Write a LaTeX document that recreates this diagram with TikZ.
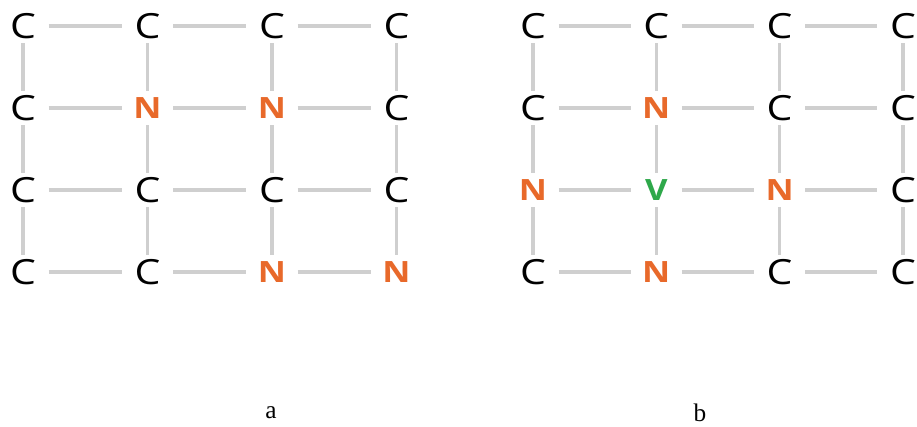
\documentclass[tikz,border=0pt]{standalone}
\usepackage{fontspec}
\setmainfont{Liberation Serif}
\newfontfamily\atomfont{Open Sans}
\usetikzlibrary{calc}

\definecolor{nitrogen}{HTML}{E8692A}
\definecolor{vacancy}{HTML}{2EA84A}
\definecolor{bondgray}{HTML}{CFCFCF}

\newcommand{\widen}[1]{\scalebox{1.18}[1]{#1}}

\tikzset{
  site/.style={inner sep=0pt, minimum width=38pt, minimum height=25.5pt},
  atomC/.style={site, text=black, font=\atomfont\fontsize{26}{26}\selectfont},
  atomN/.style={site, text=nitrogen, font=\atomfont\bfseries\fontsize{22}{22}\selectfont},
  atomV/.style={site, text=vacancy, font=\atomfont\bfseries\fontsize{22}{22}\selectfont},
  bond/.style={bondgray, line width=2.5pt},
  panel/.style={font=\fontsize{19}{19}\selectfont},
}

\begin{document}
\begin{tikzpicture}[x=0.75pt, y=-0.75pt]
\useasboundingbox (0,0) rectangle (917,426);

% lattice a
\foreach \j/\y/\atoms in {1/26/{C,C,C,C}, 2/108/{C,N,N,C}, 3/190/{C,C,C,C}, 4/272/{C,C,N,N}}{
  \foreach \t [count=\i] in \atoms
    \node[atom\t] (a-\i-\j) at ({23+124.5*(\i-1)},\y) {\widen{\t}};
}
% lattice b
\foreach \j/\y/\atoms in {1/26/{C,C,C,C}, 2/108/{C,N,C,C}, 3/190/{N,V,N,C}, 4/272/{C,N,C,C}}{
  \foreach \t [count=\i] in \atoms
    \node[atom\t] (b-\i-\j) at ({533+123.3*(\i-1)},\y) {\widen{\t}};
}

% bonds
\foreach \p in {a,b}{
  \foreach \i in {1,...,4}{
    \foreach \j in {1,...,4}{
      \pgfmathtruncatemacro{\inext}{\i+1}
      \pgfmathtruncatemacro{\jnext}{\j+1}
      \ifnum\i<4 \draw[bond] (\p-\i-\j) -- (\p-\inext-\j); \fi
      \ifnum\j<4 \draw[bond] (\p-\i-\j) -- (\p-\i-\jnext); \fi
    }
  }
}

\node[panel] (lbl-a) at (271,413) {a};
\node[panel] (lbl-b) at (700,413) {b};

\end{tikzpicture}
\end{document}
